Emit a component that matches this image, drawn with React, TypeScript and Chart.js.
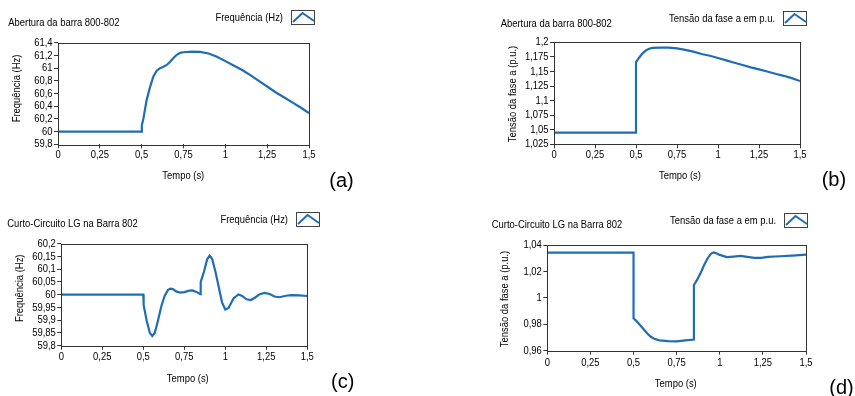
import React, { useEffect, useRef } from 'react';
import { Chart, registerables } from 'chart.js';
Chart.register(...registerables);

// ---------- data ----------
const timeTicks = [0, 0.25, 0.5, 0.75, 1, 1.25, 1.5];

const tA = [0, 0.5, 0.501, 0.51, 0.53, 0.55, 0.57, 0.59, 0.61, 0.63, 0.65, 0.67, 0.69, 0.71, 0.73, 0.75, 0.8, 0.85, 0.9, 0.95, 1.0, 1.05, 1.1, 1.15, 1.2, 1.25, 1.3, 1.35, 1.4, 1.45, 1.5];
const freqA = [60, 60, 60.1, 60.2, 60.5, 60.7, 60.87, 60.96, 61.0, 61.02, 61.05, 61.1, 61.16, 61.21, 61.24, 61.25, 61.26, 61.255, 61.23, 61.18, 61.11, 61.04, 60.97, 60.89, 60.8, 60.71, 60.62, 60.54, 60.46, 60.38, 60.29];
const yTicksA = [59.8, 60, 60.2, 60.4, 60.6, 60.8, 61, 61.2, 61.4];

const tB = [0, 0.5, 0.5, 0.52, 0.54, 0.56, 0.58, 0.6, 0.65, 0.7, 0.75, 0.8, 0.85, 0.9, 0.95, 1.0, 1.05, 1.1, 1.15, 1.2, 1.25, 1.3, 1.35, 1.4, 1.45, 1.5];
const voltB = [1.045, 1.045, 1.166, 1.174, 1.181, 1.186, 1.189, 1.1905, 1.191, 1.191, 1.1895, 1.187, 1.184, 1.18, 1.177, 1.173, 1.169, 1.165, 1.161, 1.157, 1.1535, 1.15, 1.146, 1.1425, 1.1385, 1.1335];
const yTicksB = [1.025, 1.05, 1.075, 1.1, 1.125, 1.15, 1.175, 1.2];

const tC = [0, 0.5, 0.502, 0.52, 0.54, 0.555, 0.57, 0.59, 0.61, 0.63, 0.65, 0.665, 0.68, 0.7, 0.725, 0.75, 0.78, 0.8, 0.82, 0.848, 0.85, 0.87, 0.89, 0.905, 0.92, 0.94, 0.96, 0.98, 1.0, 1.02, 1.05, 1.08, 1.1, 1.13, 1.155, 1.18, 1.21, 1.24, 1.27, 1.3, 1.33, 1.37, 1.4, 1.45, 1.5];
const freqC = [60, 60, 59.96, 59.9, 59.85, 59.838, 59.85, 59.9, 59.955, 59.995, 60.018, 60.024, 60.022, 60.013, 60.008, 60.01, 60.016, 60.017, 60.012, 60.002, 60.05, 60.09, 60.14, 60.153, 60.14, 60.09, 60.03, 59.97, 59.942, 59.948, 59.985, 60.001, 59.996, 59.982, 59.979, 59.988, 60.002, 60.007, 60.003, 59.993, 59.99, 59.996, 59.998, 59.997, 59.995];
const yTicksC = [59.8, 59.85, 59.9, 59.95, 60, 60.05, 60.1, 60.15, 60.2];

const tD = [0, 0.5, 0.5, 0.52, 0.54, 0.56, 0.58, 0.6, 0.62, 0.65, 0.7, 0.75, 0.8, 0.85, 0.85, 0.87, 0.89, 0.91, 0.93, 0.95, 0.965, 0.98, 1.0, 1.04, 1.08, 1.12, 1.16, 1.2, 1.24, 1.28, 1.35, 1.42, 1.5];
const voltD = [1.0342, 1.0342, 0.9845, 0.982, 0.979, 0.976, 0.973, 0.9705, 0.969, 0.9678, 0.9673, 0.967, 0.9678, 0.9685, 1.0097, 1.014, 1.019, 1.025, 1.03, 1.0335, 1.0344, 1.0338, 1.0325, 1.0308, 1.0312, 1.0317, 1.031, 1.0302, 1.0302, 1.031, 1.0315, 1.032, 1.0327];
const yTicksD = [0.96, 0.98, 1, 1.02, 1.04];

// ---------- styling ----------
const FONT = "'Liberation Sans', Arial, sans-serif";
const FS = 11.5;
const NARROW = 0.82;
const LINE = '#1f6db5';
const AXIS = '#333333';
const TEXT = '#000000';

const fmt = (v: number) => String(Number(Number(v).toFixed(4))).replace('.', ',');

function narrowText(ctx: CanvasRenderingContext2D, text: string, x: number, y: number, align: CanvasTextAlign, rot = 0) {
  ctx.save();
  ctx.translate(x, y);
  if (rot) ctx.rotate(rot);
  ctx.scale(NARROW, 1);
  ctx.textAlign = align;
  ctx.textBaseline = 'middle';
  ctx.fillText(text, 0, 0);
  ctx.restore();
}

type Panel = {
  cx: number; cy: number; cw: number; ch: number;
  L: number; R: number; T: number; B: number;
  t: number[]; v: number[]; yTicks: number[];
  title: string; titleX: number; titleY: number;
  legend: string; boxX: number; boxY: number;
  yTitle: string; yTitleX: number; yTitleY: number;
  xTitleX: number; xTitleY: number; xTickY: number;
  letter: string; letterX: number; letterY: number;
};

const panels: Panel[] = [
  {
    cx: 0, cy: 0, cw: 427, ch: 198,
    L: 58, R: 309, T: 42.7, B: 144.3,
    t: tA, v: freqA, yTicks: yTicksA,
    title: 'Abertura da barra 800-802', titleX: 8.3, titleY: 23.3,
    legend: 'Frequência (Hz)', boxX: 291, boxY: 9.5,
    yTitle: 'Frequência (Hz)', yTitleX: 16.7, yTitleY: 88.5,
    xTitleX: 183.3, xTitleY: 175.7, xTickY: 155,
    letter: '(a)', letterX: 329.3, letterY: 181.7,
  },
  {
    cx: 427, cy: 0, cw: 428, ch: 198,
    L: 554, R: 800, T: 42.3, B: 144.3,
    t: tB, v: voltB, yTicks: yTicksB,
    title: 'Abertura da barra 800-802', titleX: 500.7, titleY: 24,
    legend: 'Tensão da fase a em p.u.', boxX: 783, boxY: 10.5,
    yTitle: 'Tensão da fase a (p.u.)', yTitleX: 513.3, yTitleY: 94,
    xTitleX: 680, xTitleY: 175.5, xTickY: 155,
    letter: '(b)', letterX: 821.7, letterY: 180,
  },
  {
    cx: 0, cy: 198, cw: 427, ch: 198,
    L: 61.3, R: 307.3, T: 243.7, B: 345.7,
    t: tC, v: freqC, yTicks: yTicksC,
    title: 'Curto-Circuito LG na Barra 802', titleX: 7.3, titleY: 224.3,
    legend: 'Frequência (Hz)', boxX: 295.5, boxY: 211.7,
    yTitle: 'Frequência (Hz)', yTitleX: 20, yTitleY: 288.3,
    xTitleX: 187.8, xTitleY: 379, xTickY: 357.3,
    letter: '(c)', letterX: 331, letterY: 382,
  },
  {
    cx: 427, cy: 198, cw: 428, ch: 198,
    L: 547.3, R: 806, T: 245, B: 350.7,
    t: tD, v: voltD, yTicks: yTicksD,
    title: 'Curto-Circuito LG na Barra 802', titleX: 491.7, titleY: 225,
    legend: 'Tensão da fase a em p.u.', boxX: 783.5, boxY: 212.7,
    yTitle: 'Tensão da fase a (p.u.)', yTitleX: 505, yTitleY: 299,
    xTitleX: 675.8, xTitleY: 384, xTickY: 363.3,
    letter: '(d)', letterX: 829.3, letterY: 388.3,
  },
];

function PanelChart({ p }: { p: Panel }) {
  const ref = useRef<HTMLCanvasElement>(null);
  useEffect(() => {
    const canvas = ref.current;
    if (!canvas) return;
    const L = p.L - p.cx, R = p.R - p.cx, T = p.T - p.cy, B = p.B - p.cy;
    const deco = {
      id: 'deco',
      afterDraw(chart: any) {
        const ctx = chart.ctx as CanvasRenderingContext2D;
        const a = chart.chartArea;
        const xs = chart.scales.x, ys = chart.scales.y;
        ctx.save();
        // plot frame
        ctx.strokeStyle = AXIS;
        ctx.lineWidth = 1;
        ctx.strokeRect(Math.round(a.left) + 0.5, Math.round(a.top) + 0.5, Math.round(a.right - a.left), Math.round(a.bottom - a.top));
        ctx.fillStyle = TEXT;
        ctx.font = `${FS}px ${FONT}`;
        // tick labels from the library's scales
        ys.ticks.forEach((tk: any) => {
          narrowText(ctx, fmt(tk.value), a.left - 5.5, ys.getPixelForValue(tk.value), 'right');
        });
        xs.ticks.forEach((tk: any) => {
          narrowText(ctx, fmt(tk.value), xs.getPixelForValue(tk.value), p.xTickY - p.cy, 'center');
        });
        // axis titles
        narrowText(ctx, 'Tempo (s)', p.xTitleX - p.cx, p.xTitleY - p.cy, 'center');
        narrowText(ctx, p.yTitle, p.yTitleX - p.cx, p.yTitleY - p.cy, 'center', -Math.PI / 2);
        // title
        narrowText(ctx, p.title, p.titleX - p.cx, p.titleY - p.cy, 'left');
        // legend
        const bx = Math.round(p.boxX - p.cx), by = Math.round(p.boxY - p.cy), bw = 23, bh = 14;
        narrowText(ctx, p.legend, bx - 8, by + bh / 2 + 0.5, 'right');
        ctx.strokeStyle = '#444';
        ctx.lineWidth = 1;
        ctx.strokeRect(bx + 0.5, by + 0.5, bw, bh);
        ctx.strokeStyle = LINE;
        ctx.lineWidth = 2;
        ctx.beginPath();
        ctx.moveTo(bx + 2, by + bh - 2);
        ctx.lineTo(bx + bw / 2, by + 3);
        ctx.lineTo(bx + bw, by + bh - 3);
        ctx.stroke();
        // letter
        ctx.fillStyle = '#000';
        ctx.font = `20px ${FONT}`;
        ctx.textAlign = 'left';
        ctx.textBaseline = 'middle';
        ctx.fillText(p.letter, p.letterX - p.cx, p.letterY - p.cy);
        ctx.restore();
      },
    };
    const chart = new Chart(canvas, {
      type: 'line',
      data: {
        datasets: [{
          data: p.t.map((t, i) => ({ x: t, y: p.v[i] })),
          borderColor: LINE,
          borderWidth: 2.2,
          pointRadius: 0,
          tension: 0,
          fill: false,
        }],
      },
      options: {
        responsive: false,
        animation: false,
        devicePixelRatio: 1,
        layout: { padding: { left: 0, top: T, right: p.cw - R, bottom: 0 } },
        plugins: { legend: { display: false }, tooltip: { enabled: false }, title: { display: false } },
        scales: {
          x: {
            type: 'linear',
            min: 0, max: 1.5,
            afterBuildTicks: (s: any) => { s.ticks = timeTicks.map((v) => ({ value: v })); },
            afterFit: (s: any) => { s.height = p.ch - B; },
            ticks: { display: false },
            grid: { drawOnChartArea: false, drawTicks: true, tickLength: 4, color: AXIS },
            border: { display: false },
          },
          y: {
            type: 'linear',
            min: p.yTicks[0], max: p.yTicks[p.yTicks.length - 1],
            afterBuildTicks: (s: any) => { s.ticks = p.yTicks.map((v) => ({ value: v })); },
            afterFit: (s: any) => { s.width = L; },
            ticks: { display: false },
            grid: { drawOnChartArea: false, drawTicks: true, tickLength: 4, color: AXIS },
            border: { display: false },
          },
        },
      } as any,
      plugins: [deco],
    });
    return () => chart.destroy();
  }, [p]);
  return (
    <canvas
      ref={ref}
      width={p.cw}
      height={p.ch}
      style={{ position: 'absolute', left: p.cx, top: p.cy, width: p.cw, height: p.ch }}
    />
  );
}

export default function App() {
  useEffect(() => {
    document.body.style.margin = '0';
    document.body.style.background = '#fff';
  }, []);
  return (
    <div style={{ position: 'relative', width: 855, height: 396, background: '#fff' }}>
      {panels.map((p, i) => <PanelChart key={i} p={p} />)}
    </div>
  );
}
